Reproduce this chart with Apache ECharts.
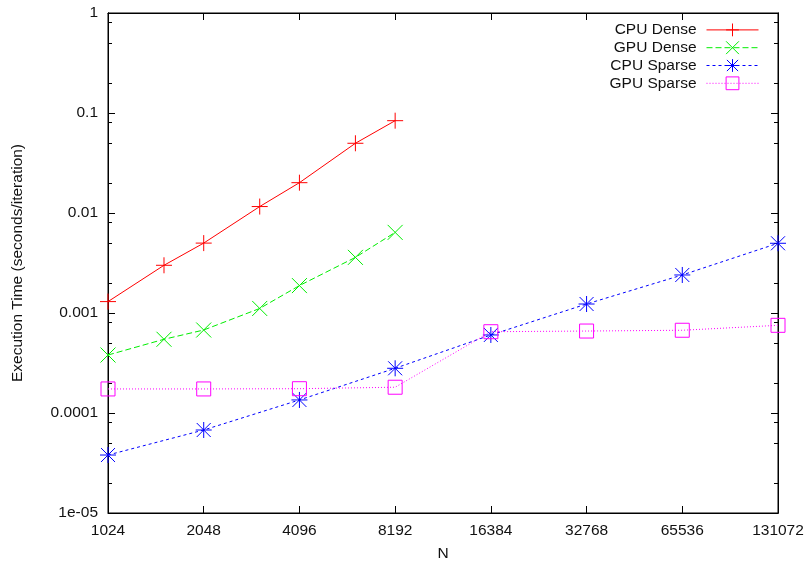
<!DOCTYPE html>
<html>
<head>
<meta charset="utf-8">
<script src="https://cdn.jsdelivr.net/npm/echarts@6/dist/echarts.min.js"></script>
<style>html,body{margin:0;padding:0;background:#fff}#c{width:804px;height:561px}</style>
</head>
<body>
<div id="c"></div>
<script>
// ---- data ----
const nDense = [1024, 1536, 2048, 3072, 4096, 6144, 8192];
const cpuDense = [0.0013, 0.0030, 0.0050, 0.0116, 0.0201, 0.0498, 0.0838];
const gpuDense = [0.00038, 0.000546, 0.000676, 0.00111, 0.00188, 0.0036, 0.0064];
const nSparse = [1024, 2048, 4096, 8192, 16384, 32768, 65536, 131072];
const cpuSparse = [0.000038, 0.0000676, 0.000135, 0.00028, 0.000603, 0.00123, 0.0024, 0.00498];
const gpuSparse = [0.000174, 0.000174, 0.000175, 0.000181, 0.00065, 0.00066, 0.000672, 0.000753];

const xTickValues = [1024, 2048, 4096, 8192, 16384, 32768, 65536, 131072];
const xTickLabels = ['1024', '2048', '4096', '8192', '16384', '32768', '65536', '131072'];
const yTickValues = [1e-5, 1e-4, 1e-3, 1e-2, 1e-1, 1];
const yTickLabels = ['1e-05', '0.0001', '0.001', '0.01', '0.1', '1'];
const yMinorMantissas = [2, 5, 8];
const yMinorValues = [];
yTickValues.slice(0, -1).forEach(d => yMinorMantissas.forEach(m => yMinorValues.push(d * m)));

const FONT = "'Liberation Sans', Arial, Helvetica, sans-serif";
const FS = 15.5;

function pair(xs, ys) { return xs.map((x, i) => [x, ys[i]]); }
function nearestLabel(values, labels, v) {
  let best = 0, bd = Infinity;
  values.forEach((t, i) => { const d = Math.abs(Math.log(t) - Math.log(v)); if (d < bd) { bd = d; best = i; } });
  return labels[best];
}

const symPlus = 'path://M0,8L16,8M8,0L8,16';
const symCross = 'path://M0,0L16,16M16,0L0,16';
const symStar = 'path://M0,8L16,8M8,0L8,16M1,1L15,15M15,1L1,15';
const symSquare = 'path://M0,0L16,0L16,16L0,16Z';

function mkSeries(name, xs, ys, color, type, symbol, size) {
  return {
    name, type: 'line', data: pair(xs, ys),
    xAxisIndex: 0, yAxisIndex: 0,
    symbol, symbolSize: size, showAllSymbol: true, clip: false,
    lineStyle: { color, width: 1, type },
    itemStyle: { color: 'none', borderColor: color, borderWidth: 1 },
    emphasis: { disabled: true },
    animation: false
  };
}

function xAxis(pos, labels) {
  return {
    type: 'log', logBase: 2, min: 1024, max: 131072, position: pos,
    name: labels ? 'N' : '', nameLocation: 'middle', nameGap: 33,
    nameTextStyle: { fontFamily: FONT, fontSize: FS, color: '#111' },
    axisLine: { show: true, lineStyle: { color: '#000', width: 1 } },
    axisTick: { show: true, inside: true, length: 7, customValues: xTickValues, lineStyle: { color: '#000' } },
    axisLabel: {
      show: !!labels, customValues: xTickValues, margin: 10, hideOverlap: false,
      fontFamily: FONT, fontSize: FS, color: '#111',
      formatter: v => nearestLabel(xTickValues, xTickLabels, v)
    },
    splitLine: { show: false }, minorTick: { show: false }
  };
}
function yAxis(pos, major, named) {
  return {
    type: 'log', logBase: 10, min: 1e-5, max: 1, position: pos,
    name: named ? 'Execution Time (seconds/iteration)' : '', nameLocation: 'middle', nameGap: 82,
    nameTextStyle: { fontFamily: FONT, fontSize: FS, color: '#111' },
    axisLine: { show: true, lineStyle: { color: '#000', width: 1 } },
    axisTick: { show: true, inside: true, length: major ? 7 : 4, customValues: major ? yTickValues : yMinorValues, lineStyle: { color: '#000' } },
    axisLabel: {
      show: !!named, customValues: yTickValues, margin: 10,
      fontFamily: FONT, fontSize: FS, color: '#111',
      formatter: v => nearestLabel(yTickValues, yTickLabels, v)
    },
    splitLine: { show: false }, minorTick: { show: false }
  };
}

const chart = echarts.init(document.getElementById('c'), null, { renderer: 'canvas' });
chart.setOption({
  animation: false,
  backgroundColor: '#fff',
  grid: { left: 108, right: 26, top: 13, bottom: 48, show: true, borderColor: '#000', borderWidth: 1, containLabel: false, outerBoundsMode: 'none' },
  legend: {
    orient: 'vertical', right: 40, top: 16, align: 'right',
    itemWidth: 52, itemHeight: 16, itemGap: 0,
    lineStyle: { width: 1 },
    itemStyle: { borderWidth: 1 },
    textStyle: { fontFamily: FONT, fontSize: FS, color: '#111', padding: [0, 5, 0, 0] },
    data: ['CPU Dense', 'GPU Dense', 'CPU Sparse', 'GPU Sparse']
  },
  xAxis: [xAxis('bottom', true), xAxis('top', false)],
  yAxis: [yAxis('left', true, true), yAxis('left', false, false), yAxis('right', true, false), yAxis('right', false, false)],
  series: [
    mkSeries('CPU Dense', nDense, cpuDense, '#ff0000', 'solid', symPlus, 16),
    mkSeries('GPU Dense', nDense, gpuDense, '#00ee00', [6, 3], symCross, 15),
    mkSeries('CPU Sparse', nSparse, cpuSparse, '#0000ff', [3, 3], symStar, 16),
    mkSeries('GPU Sparse', nSparse, gpuSparse, '#ff00ff', [1, 2], symSquare, 14)
  ]
});
</script>
</body>
</html>
